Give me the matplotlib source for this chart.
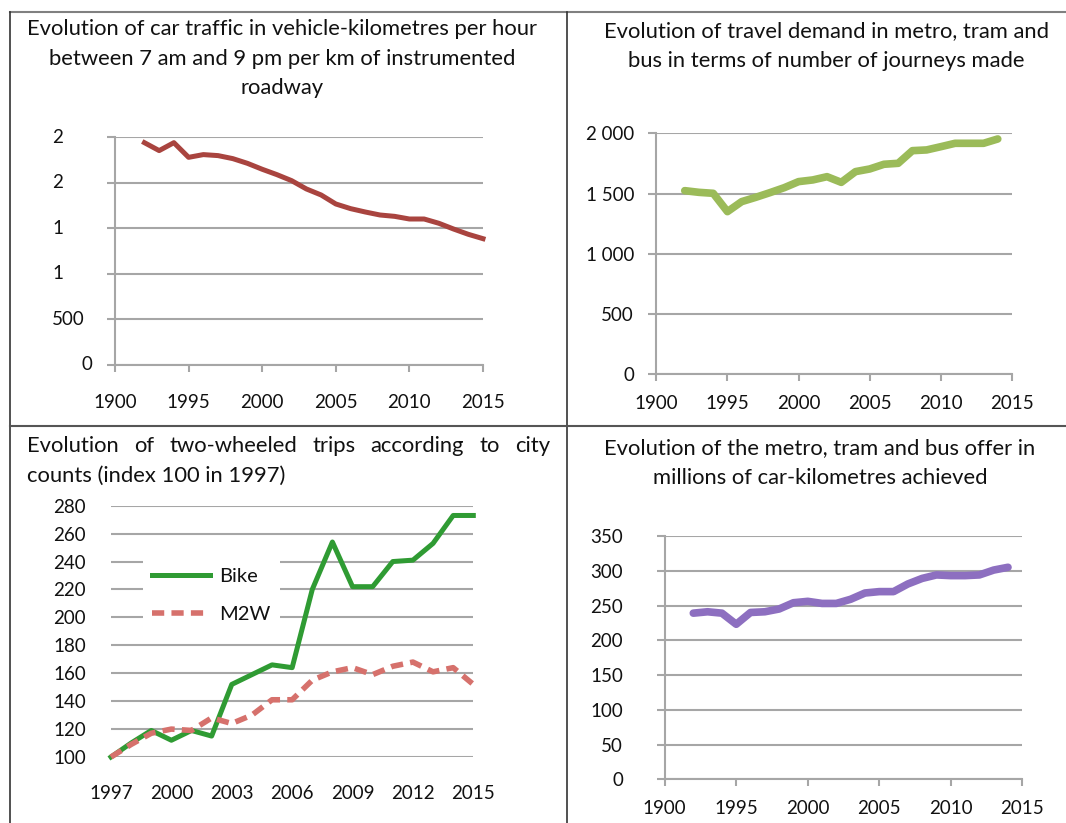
import matplotlib
matplotlib.use("Agg")
import matplotlib.pyplot as plt
from matplotlib.lines import Line2D
from matplotlib.transforms import blended_transform_factory

plt.rcParams['font.family'] = ['Lato', 'DejaVu Sans']

# ---------------- data ----------------
car_years = [1992, 1993, 1994, 1995, 1996, 1997, 1998, 1999, 2000, 2001, 2002, 2003,
             2004, 2005, 2006, 2007, 2008, 2009, 2010, 2011, 2012, 2013, 2014, 2015]
car_traffic = [2441, 2354, 2441, 2280, 2310, 2299, 2266, 2214, 2149, 2090, 2024, 1933,
               1867, 1768, 1717, 1680, 1647, 1632, 1603, 1603, 1556, 1493, 1435, 1387]
car_yticks = [0, 500, 1000, 1500, 2000, 2500]
car_ylabels = ['0', '500', '1', '1', '2', '2']

demand_years = [1992, 1993, 1994, 1995, 1996, 1997, 1998, 1999, 2000, 2001, 2002, 2003,
                2004, 2005, 2006, 2007, 2008, 2009, 2010, 2011, 2012, 2013, 2014]
demand = [1524, 1510, 1502, 1350, 1433, 1469, 1508, 1549, 1599, 1613, 1640, 1593,
          1682, 1704, 1743, 1751, 1856, 1862, 1889, 1917, 1917, 1917, 1953]
demand_yticks = [0, 500, 1000, 1500, 2000]
demand_ylabels = ['0', '500', '1 000', '1 500', '2 000']

xticks_90 = [1990, 1995, 2000, 2005, 2010, 2015]
xlabels_90 = ['1900', '1995', '2000', '2005', '2010', '2015']

tw_years = [1997, 1998, 1999, 2000, 2001, 2002, 2003, 2004, 2005, 2006, 2007, 2008,
            2009, 2010, 2011, 2012, 2013, 2014, 2015]
bike = [100, 110, 119, 112, 119, 115, 152, 159, 166, 164, 220, 254,
        222, 222, 240, 241, 253, 273, 273]
m2w = [100, 109, 117, 120, 119, 128, 124, 130, 141, 141, 155, 161,
       164, 159, 165, 168, 161, 164, 152]
tw_yticks = [100, 120, 140, 160, 180, 200, 220, 240, 260, 280]
tw_xticks = [1997, 2000, 2003, 2006, 2009, 2012, 2015]
tw_xlabels = ['1997', '2000', '2003', '2006', '2009', '2012', '2015']

offer_years = demand_years
offer = [239, 241, 239, 223, 240, 241, 245, 254, 256, 253, 253, 259,
         268, 270, 270, 281, 289, 294, 293, 293, 294, 301, 305]
offer_yticks = [0, 50, 100, 150, 200, 250, 300, 350]

titles1 = ["Evolution of car traffic in vehicle-kilometres per hour",
           "between 7 am and 9 pm per km of instrumented",
           "roadway"]
titles2 = ["Evolution of travel demand in metro, tram and",
           "bus in terms of number of journeys made"]
titles3 = ["Evolution of two-wheeled trips according to city",
           "counts (index 100 in 1997)"]
titles4 = ["Evolution of the metro, tram and bus offer in",
           "millions of car-kilometres achieved"]

# ---------------- styling ----------------
W, H = 1066, 823
GRID = '#A6A6A6'
TXT = '#111111'
TICK_FS = 13.5
TITLE_FS = 15.8

fig = plt.figure(figsize=(W / 100, H / 100), dpi=100)
fig.patch.set_facecolor('white')


def fx(x):
    return x / W


def fy(y):
    return 1 - y / H


def add_ax(l, t, r, b):
    return fig.add_axes([fx(l), fy(b), (r - l) / W, (b - t) / H])


# table borders
fig.add_artist(Line2D([fx(10), fx(W)], [fy(12), fy(12)], color='#808080', lw=1.5))
fig.add_artist(Line2D([fx(10), fx(10)], [fy(12), fy(H)], color='#333333', lw=1.2))
fig.add_artist(Line2D([fx(566.5), fx(566.5)], [fy(12), fy(H)], color='#333333', lw=1.2))
fig.add_artist(Line2D([fx(10), fx(W)], [fy(426), fy(426)], color='#555555', lw=1.5))


def style_axis(ax, ylo, yhi, yticks, xticks, xlabels, xpad, ypad, excel=True):
    ax.set_ylim(ylo, yhi)
    ax.set_yticks(yticks)
    ax.set_xticks(xticks)
    ax.set_xticklabels(xlabels)
    ax.yaxis.grid(True, color=GRID, lw=1.5)
    ax.set_axisbelow(True)
    for s in ['top', 'right']:
        ax.spines[s].set_visible(False)
    if excel:
        for s in ['left', 'bottom']:
            ax.spines[s].set_color(GRID)
            ax.spines[s].set_linewidth(1.5)
        ax.tick_params(axis='y', length=6, width=1.5, color=GRID, direction='out', pad=ypad,
                       labelsize=TICK_FS, labelcolor=TXT)
        ax.tick_params(axis='x', length=5, width=1.5, color=GRID, direction='out', pad=xpad,
                       labelsize=TICK_FS, labelcolor=TXT)
    else:
        for s in ['left', 'bottom']:
            ax.spines[s].set_visible(False)
        ax.tick_params(axis='both', length=0, labelsize=TICK_FS, labelcolor=TXT)
        ax.tick_params(axis='y', pad=ypad)
        ax.tick_params(axis='x', pad=xpad)
    ax.set_facecolor('none')


# ---- panel 1 ----
ax1 = add_ax(115, 137.3, 483, 365)
ax1.plot(car_years, car_traffic, color='#A9443F', lw=3.6, solid_joinstyle='round', clip_on=False)
ax1.set_xlim(1990, 2015)
style_axis(ax1, 0, 2500, car_yticks, xticks_90, xlabels_90, 16, 8)
ax1.set_yticklabels([])
tr1 = blended_transform_factory(fig.transFigure, ax1.transData)
lab_x = [82, 52, 52, 52, 52, 52]
for v, lab, xx in zip(car_yticks, car_ylabels, lab_x):
    ax1.text(fx(xx), v, lab, transform=tr1, ha='left', va='center', fontsize=TICK_FS, color=TXT)

# ---- panel 2 ----
ax2 = add_ax(656.3, 133.3, 1012, 374.3)
ax2.plot(demand_years, demand, color='#9BBB59', lw=5.5, solid_joinstyle='round',
         solid_capstyle='round', clip_on=False)
ax2.set_xlim(1990, 2015)
style_axis(ax2, 0, 2000, demand_yticks, xticks_90, xlabels_90, 10, 10)
ax2.set_yticklabels(demand_ylabels)

# ---- panel 3 ----
ax3 = add_ax(111, 505.7, 473.3, 757)
ax3.plot(tw_years, bike, color='#2F9B33', lw=3.6, solid_joinstyle='round', label='Bike', clip_on=False)
ax3.plot(tw_years, m2w, color='#D6716C', lw=4, linestyle=(0, (2.2, 1.3)),
         dash_capstyle='butt', label='M2W', clip_on=False)
ax3.set_xlim(1997, 2015)
style_axis(ax3, 100, 280, tw_yticks, tw_xticks, tw_xlabels, 20, 18, excel=False)
leg = ax3.legend(loc='upper left', bbox_to_anchor=(fx(143), fy(559)), bbox_transform=fig.transFigure,
                 frameon=True, facecolor='white', edgecolor='none', framealpha=1, fancybox=False,
                 fontsize=14.5, handlelength=2.9, handletextpad=0.45, labelspacing=1.05,
                 borderpad=0.45, borderaxespad=0)
for t in leg.get_texts():
    t.set_color(TXT)

# ---- panel 4 ----
ax4 = add_ax(664.7, 536, 1022.3, 779.3)
ax4.plot(offer_years, offer, color='#8D6FC0', lw=5.5, solid_joinstyle='round',
         solid_capstyle='round', clip_on=False)
ax4.set_xlim(1990, 2015)
style_axis(ax4, 0, 350, offer_yticks, xticks_90, xlabels_90, 10, 24)

# ---------------- titles ----------------
for txt, yy in zip(titles1, [29, 59, 88]):
    fig.text(fx(282), fy(yy), txt, ha='center', va='center', fontsize=TITLE_FS, color=TXT)
for txt, yy in zip(titles2, [31, 61]):
    fig.text(fx(826), fy(yy), txt, ha='center', va='center', fontsize=TITLE_FS, color=TXT)
for txt, yy in zip(titles4, [448, 478]):
    fig.text(fx(820), fy(yy), txt, ha='center', va='center', fontsize=TITLE_FS, color=TXT)

# justified first line for panel 3
renderer = fig.canvas.get_renderer()
words = titles3[0].split(' ')
objs = [fig.text(0, fy(446), w, ha='left', va='center', fontsize=TITLE_FS, color=TXT) for w in words]
widths = [o.get_window_extent(renderer).width for o in objs]
x0, x1 = 27, 550
gap = (x1 - x0 - sum(widths)) / (len(words) - 1)
cx = x0
for o, wdt in zip(objs, widths):
    o.set_x(fx(cx))
    cx += wdt + gap
fig.text(fx(27), fy(476), titles3[1], ha='left', va='center', fontsize=TITLE_FS, color=TXT)

fig.savefig('out.png', dpi=100, facecolor='white')
